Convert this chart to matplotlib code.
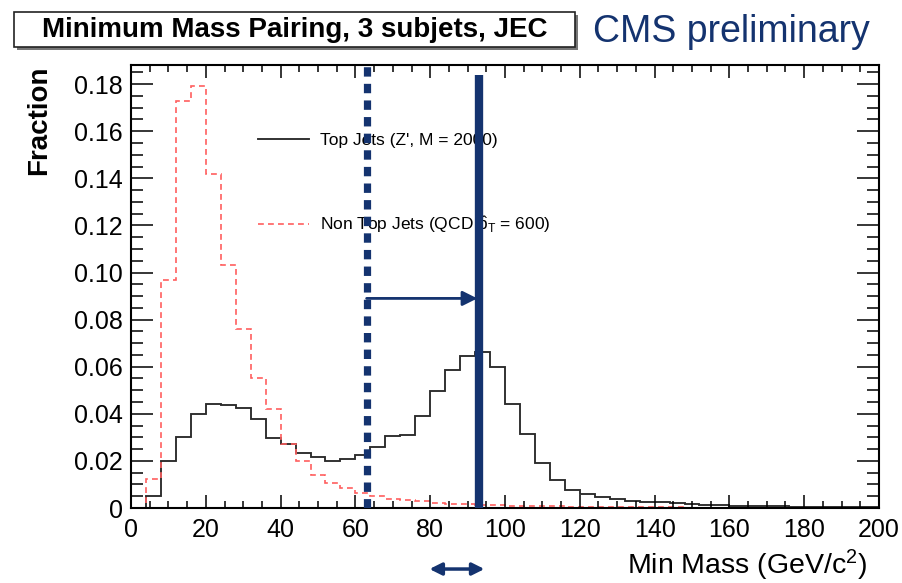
import numpy as np
import matplotlib
matplotlib.use("Agg")
import matplotlib.pyplot as plt
from matplotlib.patches import Rectangle
from matplotlib.ticker import MultipleLocator

plt.rcParams['font.family'] = ['Liberation Sans', 'DejaVu Sans']
plt.rcParams['mathtext.fontset'] = 'custom'
plt.rcParams['mathtext.rm'] = 'Liberation Sans'
plt.rcParams['mathtext.it'] = 'Liberation Sans'

# min-mass histograms, 4 GeV bins from 0 to 200
mass_edges = np.arange(0, 204, 4)

top_jets = [
    0.0, 0.005, 0.020, 0.030, 0.040, 0.0443, 0.0436, 0.0425, 0.0378, 0.0297,
    0.0273, 0.0233, 0.0216, 0.0200, 0.0208, 0.0226, 0.0259, 0.0304, 0.0310, 0.0389,
    0.0495, 0.0584, 0.0647, 0.0662, 0.0598, 0.0441, 0.0315, 0.0190, 0.0117, 0.0078,
    0.0060, 0.0045, 0.0038, 0.0030, 0.0027, 0.0024, 0.0020, 0.0016, 0.0014, 0.0012,
    0.0010, 0.0009, 0.0008, 0.0007, 0.0006, 0.0006, 0.0005, 0.0005, 0.0004, 0.0004,
]
non_top_jets = [
    0.0, 0.0123, 0.097, 0.173, 0.179, 0.142, 0.103, 0.076, 0.055, 0.042,
    0.027, 0.0198, 0.0142, 0.0106, 0.0085, 0.0064, 0.0050, 0.0040, 0.0033, 0.0028,
    0.0023, 0.0019, 0.0016, 0.0014, 0.0012, 0.0010, 0.0009, 0.0008, 0.0007, 0.0006,
    0.0005, 0.0005, 0.0004, 0.0004, 0.0003, 0.0003, 0.0003, 0.0002, 0.0002, 0.0002,
    0.0002, 0.0002, 0.0001, 0.0001, 0.0001, 0.0001, 0.0001, 0.0001, 0.0001, 0.0001,
]

cut_low = 63
cut_high = 93
cut_high_top = 0.184
arrow_y = 0.089
window = (79.8, 94.5)

navy = '#14336f'

fig = plt.figure(figsize=(9.03, 5.83), dpi=100)
ax = fig.add_axes([0.1451, 0.1286, 0.8283, 0.7599])

ax.stairs(top_jets, mass_edges, color='#2a2a2a', lw=1.35,
          label="Top Jets (Z', M = 2000)")
red = ax.stairs(non_top_jets, mass_edges, color='#ff5f5f', lw=1.2,
                label=r"Non Top Jets (QCD $\hat{p}_{T}$ = 600)")
red.set_linestyle((0, (3.5, 2.5)))

# mass window cuts
ax.axvline(cut_low, color=navy, lw=5.2, linestyle=(0, (1.3, 1.0)),
           dash_capstyle='butt', zorder=4)
ax.vlines(cut_high, 0, cut_high_top, color=navy, lw=6, zorder=4)
ax.annotate('', xy=(cut_high - 0.4, arrow_y), xytext=(cut_low, arrow_y),
            arrowprops=dict(arrowstyle='-|>', color=navy, lw=2,
                            mutation_scale=22, shrinkA=0, shrinkB=0),
            zorder=4)
ax.annotate('', xy=(window[1], -0.1377), xytext=(window[0], -0.1377),
            xycoords=('data', 'axes fraction'),
            textcoords=('data', 'axes fraction'),
            arrowprops=dict(arrowstyle='<|-|>', color=navy, lw=2.5,
                            mutation_scale=18, shrinkA=0, shrinkB=0),
            annotation_clip=False)

ax.set_xlim(0, 200)
ax.set_ylim(0, 0.1881)
ax.xaxis.set_major_locator(MultipleLocator(20))
ax.xaxis.set_minor_locator(MultipleLocator(5))
ax.yaxis.set_major_locator(MultipleLocator(0.02))
ax.yaxis.set_minor_locator(MultipleLocator(0.005))
ax.yaxis.set_major_formatter(plt.FuncFormatter(lambda v, p: '0' if v == 0 else f'{v:.2f}'))

ax.tick_params(which='both', direction='in', top=True, right=True,
               width=1.1, labelsize=18)
ax.tick_params(axis='x', which='major', length=9.5, pad=7)
ax.tick_params(axis='x', which='minor', length=5)
ax.tick_params(axis='y', which='major', length=16, pad=6)
ax.tick_params(axis='y', which='minor', length=8.5)
for s in ax.spines.values():
    s.set_linewidth(1.5)

ax.set_ylabel('Fraction', fontsize=20, fontweight='bold', loc='top')
ax.yaxis.set_label_coords(-0.106, 1.0)
ax.set_xlabel(r'Min Mass (GeV/c$^{2}$)', fontsize=20.5, loc='right')
ax.xaxis.set_label_coords(0.985, -0.09)

leg = ax.legend(loc='upper left', bbox_to_anchor=(0.17, 0.847), frameon=False,
                fontsize=12.5, borderpad=0, borderaxespad=0,
                handlelength=2.9, handletextpad=0.65, labelspacing=3.85)
leg.set_zorder(1)

# title box with drop shadow
fig.patches.append(Rectangle((0.0188, 0.9143), 0.6213, 0.060, transform=fig.transFigure,
                             facecolor='#777777', edgecolor='none', zorder=0))
fig.patches.append(Rectangle((0.0155, 0.9194), 0.6213, 0.060, transform=fig.transFigure,
                             facecolor='white', edgecolor='#222222', lw=1.2, zorder=1))
fig.text(0.326, 0.949, 'Minimum Mass Pairing, 3 subjets, JEC', fontsize=20,
         fontweight='bold', ha='center', va='center')
fig.text(0.657, 0.928, 'CMS preliminary', fontsize=27, color=navy,
         ha='left', va='baseline')

fig.savefig('out.png', dpi=100)
